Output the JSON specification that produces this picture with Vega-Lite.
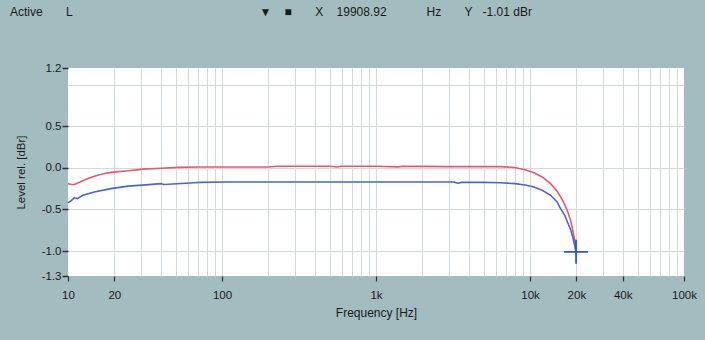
{
  "$schema": "https://vega.github.io/schema/vega-lite/v6.json",
  "autosize": "none",
  "width": 616,
  "height": 208,
  "padding": {"left": 68, "top": 68, "right": 21, "bottom": 64},
  "background": "#a3bcbf",
  "view": {"fill": "#ffffff", "stroke": null},
  "config": {"font": "Liberation Sans"},
  "title": {
    "text": "Active\u00a0\u00a0\u00a0\u00a0\u00a0\u00a0\u00a0L\u00a0\u00a0\u00a0\u00a0\u00a0\u00a0\u00a0\u00a0\u00a0\u00a0\u00a0\u00a0\u00a0\u00a0\u00a0\u00a0\u00a0\u00a0\u00a0\u00a0\u00a0\u00a0\u00a0\u00a0\u00a0\u00a0\u00a0\u00a0\u00a0\u00a0\u00a0\u00a0\u00a0\u00a0\u00a0\u00a0\u00a0\u00a0\u00a0\u00a0\u00a0\u00a0\u00a0\u00a0\u00a0\u00a0\u00a0\u00a0\u00a0\u00a0\u00a0\u00a0\u00a0\u00a0\u00a0\u00a0\u25bc\u00a0\u00a0\u00a0\u00a0\u25a0\u00a0\u00a0\u00a0\u00a0\u00a0\u00a0\u00a0X\u00a0\u00a0\u00a0\u00a019908.92\u00a0\u00a0\u00a0\u00a0\u00a0\u00a0\u00a0\u00a0\u00a0\u00a0\u00a0\u00a0Hz\u00a0\u00a0\u00a0\u00a0\u00a0\u00a0\u00a0Y\u00a0\u00a0\u00a0-1.01 dBr",
    "anchor": "start",
    "frame": "group",
    "dx": -58,
    "offset": 43,
    "fontSize": 12,
    "fontWeight": "normal",
    "color": "#1a1a1a"
  },
  "datasets": {
    "curves": [
      {"freq": 10, "level": -0.19, "channel": "R"},
      {"freq": 10.5, "level": -0.2, "channel": "R"},
      {"freq": 11, "level": -0.2, "channel": "R"},
      {"freq": 12, "level": -0.17, "channel": "R"},
      {"freq": 13, "level": -0.14, "channel": "R"},
      {"freq": 14.8, "level": -0.1, "channel": "R"},
      {"freq": 17, "level": -0.07, "channel": "R"},
      {"freq": 19, "level": -0.055, "channel": "R"},
      {"freq": 24.5, "level": -0.035, "channel": "R"},
      {"freq": 31, "level": -0.015, "channel": "R"},
      {"freq": 40, "level": -0.005, "channel": "R"},
      {"freq": 52, "level": 0.005, "channel": "R"},
      {"freq": 70, "level": 0.01, "channel": "R"},
      {"freq": 100, "level": 0.01, "channel": "R"},
      {"freq": 200, "level": 0.01, "channel": "R"},
      {"freq": 230, "level": 0.02, "channel": "R"},
      {"freq": 500, "level": 0.02, "channel": "R"},
      {"freq": 560, "level": 0.01, "channel": "R"},
      {"freq": 600, "level": 0.02, "channel": "R"},
      {"freq": 1000, "level": 0.02, "channel": "R"},
      {"freq": 1400, "level": 0.012, "channel": "R"},
      {"freq": 1500, "level": 0.02, "channel": "R"},
      {"freq": 2000, "level": 0.018, "channel": "R"},
      {"freq": 3000, "level": 0.015, "channel": "R"},
      {"freq": 5000, "level": 0.015, "channel": "R"},
      {"freq": 6500, "level": 0.015, "channel": "R"},
      {"freq": 7900, "level": 0.005, "channel": "R"},
      {"freq": 8700, "level": -0.01, "channel": "R"},
      {"freq": 9500, "level": -0.03, "channel": "R"},
      {"freq": 10600, "level": -0.06, "channel": "R"},
      {"freq": 12000, "level": -0.11, "channel": "R"},
      {"freq": 13600, "level": -0.19, "channel": "R"},
      {"freq": 15000, "level": -0.28, "channel": "R"},
      {"freq": 15800, "level": -0.35, "channel": "R"},
      {"freq": 16800, "level": -0.44, "channel": "R"},
      {"freq": 17600, "level": -0.53, "channel": "R"},
      {"freq": 18400, "level": -0.64, "channel": "R"},
      {"freq": 19000, "level": -0.76, "channel": "R"},
      {"freq": 19500, "level": -0.87, "channel": "R"},
      {"freq": 19908, "level": -1.0, "channel": "R"},
      {"freq": 10, "level": -0.42, "channel": "L"},
      {"freq": 10.4, "level": -0.4, "channel": "L"},
      {"freq": 11, "level": -0.36, "channel": "L"},
      {"freq": 11.5, "level": -0.37, "channel": "L"},
      {"freq": 12.5, "level": -0.33, "channel": "L"},
      {"freq": 14.8, "level": -0.29, "channel": "L"},
      {"freq": 19, "level": -0.25, "channel": "L"},
      {"freq": 24.5, "level": -0.22, "channel": "L"},
      {"freq": 32, "level": -0.205, "channel": "L"},
      {"freq": 40, "level": -0.19, "channel": "L"},
      {"freq": 42, "level": -0.2, "channel": "L"},
      {"freq": 66, "level": -0.18, "channel": "L"},
      {"freq": 72, "level": -0.175, "channel": "L"},
      {"freq": 110, "level": -0.17, "channel": "L"},
      {"freq": 500, "level": -0.17, "channel": "L"},
      {"freq": 1000, "level": -0.17, "channel": "L"},
      {"freq": 2000, "level": -0.17, "channel": "L"},
      {"freq": 3200, "level": -0.17, "channel": "L"},
      {"freq": 3400, "level": -0.185, "channel": "L"},
      {"freq": 3600, "level": -0.175, "channel": "L"},
      {"freq": 5000, "level": -0.175, "channel": "L"},
      {"freq": 6500, "level": -0.18, "channel": "L"},
      {"freq": 8000, "level": -0.19, "channel": "L"},
      {"freq": 9500, "level": -0.21, "channel": "L"},
      {"freq": 10600, "level": -0.23, "channel": "L"},
      {"freq": 12000, "level": -0.27, "channel": "L"},
      {"freq": 13600, "level": -0.33, "channel": "L"},
      {"freq": 15000, "level": -0.41, "channel": "L"},
      {"freq": 15800, "level": -0.49, "channel": "L"},
      {"freq": 16800, "level": -0.57, "channel": "L"},
      {"freq": 17600, "level": -0.66, "channel": "L"},
      {"freq": 18400, "level": -0.75, "channel": "L"},
      {"freq": 19000, "level": -0.84, "channel": "L"},
      {"freq": 19500, "level": -0.93, "channel": "L"},
      {"freq": 19908.92, "level": -1.01, "channel": "L"}
    ],
    "cursor": [
      {"freq": 19908.92, "level": -1.01}
    ]
  },
  "layer": [
    {
      "data": {"name": "curves"},
      "mark": {"type": "line", "strokeWidth": 1.6},
      "encoding": {
        "x": {
          "field": "freq", "type": "quantitative",
          "scale": {"type": "log", "domain": [10, 100000], "nice": false},
          "axis": {
            "orient": "bottom",
            "values": [20,30,40,50,60,70,80,90,100,200,300,400,500,600,700,800,900,1000,2000,3000,4000,5000,6000,7000,8000,9000,10000,20000,30000,40000,50000,60000,70000,80000,90000],
            "grid": true, "gridColor": "#d2d9d9", "gridWidth": 1,
            "labels": false, "ticks": false, "domain": false, "title": null
          }
        },
        "y": {
          "field": "level", "type": "quantitative",
          "scale": {"domain": [-1.3, 1.2], "nice": false, "zero": false},
          "axis": {
            "orient": "left",
            "values": [-1, -0.5, 0, 0.5, 1],
            "grid": true, "gridColor": "#d2d9d9", "gridWidth": 1,
            "labels": false, "ticks": false, "domain": false, "title": null
          }
        },
        "color": {
          "field": "channel", "type": "nominal",
          "scale": {"domain": ["R", "L"], "range": ["#e25a72", "#4a66c8"]},
          "legend": null
        }
      }
    },
    {
      "data": {"name": "cursor"},
      "mark": {
        "type": "point",
        "shape": "M-1,0L1,0M0,-1L0,1",
        "size": 576,
        "filled": false,
        "stroke": "#2f55d0",
        "strokeWidth": 1.8,
        "opacity": 1
      },
      "encoding": {
        "x": {
          "field": "freq", "type": "quantitative",
          "axis": {
            "orient": "bottom",
            "values": [10, 20, 100, 1000, 10000, 20000, 40000, 100000],
            "labelExpr": "datum.value >= 1000 ? (datum.value / 1000) + 'k' : datum.value + ''",
            "grid": false, "domain": false,
            "tickSize": 5, "tickColor": "#303030", "tickWidth": 1.2,
            "labelPadding": 8, "labelFontSize": 11.5, "labelColor": "#1a1a1a",
            "labelFlush": false, "labelOverlap": false,
            "title": "Frequency [Hz]", "titleFontSize": 12, "titleFontWeight": "normal",
            "titleColor": "#1a1a1a", "titlePadding": 7
          }
        },
        "y": {
          "field": "level", "type": "quantitative",
          "axis": {
            "orient": "left",
            "values": [1.2, 0.5, 0, -0.5, -1, -1.3],
            "labelExpr": "replace(format(datum.value, '.1f'), '\u2212', '-')",
            "grid": false, "domain": false,
            "tickSize": 6, "tickColor": "#303030", "tickWidth": 1.5,
            "labelPadding": 1, "labelFontSize": 11.5, "labelColor": "#1a1a1a",
            "labelFlush": false, "labelOverlap": false,
            "title": "Level rel. [dBr]", "titleFontSize": 11.5, "titleFontWeight": "normal",
            "titleColor": "#1a1a1a", "titlePadding": 15
          }
        }
      }
    }
  ],
  "resolve": {"axis": {"x": "independent", "y": "independent"}}
}
